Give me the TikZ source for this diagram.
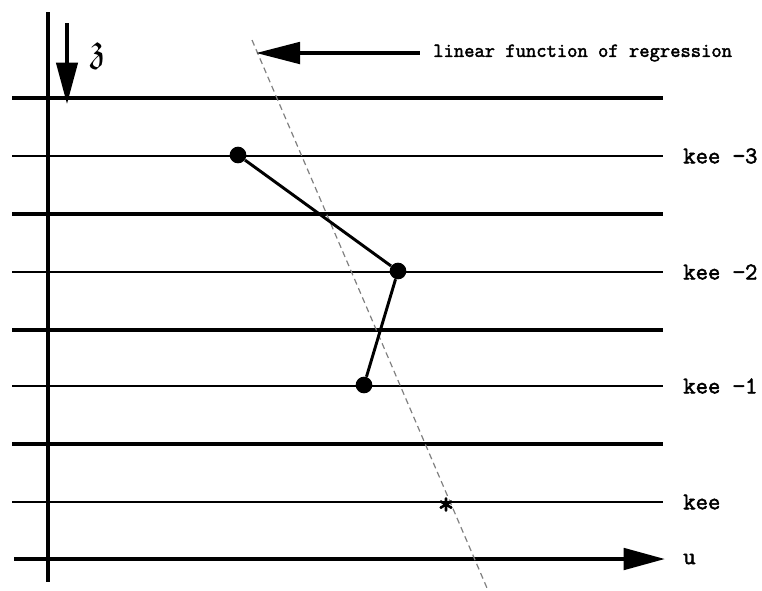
\documentclass[tikz,border=0pt]{standalone}
\usepackage{fontspec}
\usepackage{amssymb}
\newfontfamily\labelfont{Latin Modern Mono}[FakeBold=2.2]
\usetikzlibrary{arrows.meta, positioning}
\tikzstyle{heavy} = [line width=3pt]
\tikzstyle{light} = [line width=1pt]
\tikzstyle{level} = [font=\labelfont\fontsize{18}{20}\selectfont, inner sep=0pt, anchor=west]
\tikzstyle{note} = [font=\labelfont\fontsize{15}{17}\selectfont, inner sep=0pt, anchor=west]
\tikzstyle{obs} = [circle, fill=black, inner sep=0pt, minimum size=12.5pt]
\tikzstyle{bigtip} = [-{Triangle[length=31pt,width=16pt]}]

\begin{document}
\begin{tikzpicture}[x=0.75pt, y=-0.75pt]
    \useasboundingbox (0,0) rectangle (762,590);

    % axes
    \coordinate (vtop) at (48,12);
    \coordinate (vbot) at (48,582);
    \draw[heavy] (vtop) -- (vbot);
    \coordinate (ustart) at (14,559);
    \coordinate (uend) at (665,559);
    \draw[heavy, bigtip] (ustart) -- (uend);
    \node[level, right=13.5pt of uend] (u) {u};

    % time direction
    \coordinate (ttop) at (67,23);
    \coordinate (ttip) at (67,104);
    \draw[line width=2.4pt, bigtip] (ttop) -- (ttip);
    \node (zeta) at (98,56) {\fontsize{30}{32}\selectfont$\mathfrak{z}$};

    % levels
    \foreach \y in {98,214,330,444}
        \draw[heavy] (12,\y) -- (663,\y);
    \foreach \y/\name/\txt in {156/k3/kee −3, 272/k2/kee −2, 386/k1/kee −1, 502/k0/kee} {
        \coordinate (\name) at (663,\y);
        \draw[light] (12,\y) -- (\name);
        \node[level, right=15pt of \name] (lab\name) {\txt};
    }

    % regression line
    \coordinate (rtop) at (252,40);
    \coordinate (rbot) at (487,588);
    \draw[gray, line width=0.9pt, dash pattern=on 4.5pt off 3pt] (rtop) -- (rbot);
    \node[note] (reg) at (433,53) {linear function of regression};
    \coordinate (regtip) at (256,53);
    \draw[heavy, -{Triangle[length=33pt,width=16pt]}] ([xshift=-10pt]reg.west) -- (regtip);

    % observations
    \node[obs] (p3) at (238,155) {};
    \node[obs] (p2) at (398,271) {};
    \node[obs] (p1) at (364,385) {};
    \draw[line width=2.2pt] (p3) -- (p2) -- (p1);
    \node[font=\labelfont\fontsize{24}{24}\selectfont, inner sep=0pt, yshift=-3pt] (est) at (446,502) {*};

\end{tikzpicture}
\end{document}
